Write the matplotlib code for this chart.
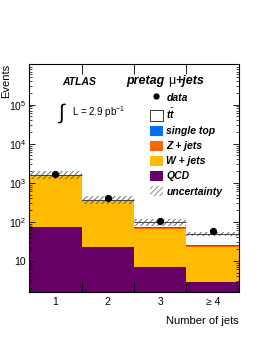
import numpy as np
import matplotlib.pyplot as plt
from matplotlib.patches import Patch
from matplotlib.lines import Line2D

plt.rcParams['font.family'] = ['Liberation Sans', 'DejaVu Sans']
plt.rcParams['mathtext.fontset'] = 'custom'
plt.rcParams['mathtext.rm'] = 'Liberation Sans'
plt.rcParams['mathtext.bfit'] = 'Liberation Sans:italic:bold'
plt.rcParams['hatch.linewidth'] = 0.6

# number of jets bins
bins = [1, 2, 3, 4]
bin_labels = ['1', '2', '3', u'\u2265 4']

# expected events per process
qcd = [72, 23, 7, 2.8]
wjets = [1450, 310, 60, 20]
zjets = [60, 15, 4, 1.2]
stop = [8, 6, 2.5, 1.2]
ttbar = [4, 18, 26, 23]
unc_frac = [0.22, 0.22, 0.22, 0.12]

data = [1720, 410, 106, 58]

x = np.array(bins)
fig = plt.figure(figsize=(2.62, 3.39), dpi=100)
ax = fig.add_axes([0.111, 0.139, 0.801, 0.672])

stack = [(qcd, '#660066'), (wjets, '#ffbb00'), (zjets, '#ff6600'),
         (stop, '#0070ff'), (ttbar, 'white')]
bottom = np.zeros(4)
for vals, col in stack:
    ax.bar(x, vals, width=1.0, bottom=bottom, color=col, linewidth=0)
    bottom = bottom + np.array(vals)

total = bottom
unc = total * np.array(unc_frac)
ax.bar(x, 2 * unc, width=1.0, bottom=total - unc, fill=False,
       hatch='//////', edgecolor='#555555', linewidth=0)
ax.hlines(total, x - 0.5, x + 0.5, color='#444444', linewidth=0.7)

ax.plot(x, data, 'o', color='black', markersize=4.2)

ax.set_yscale('log')
ax.set_xlim(0.5, 4.5)
ax.set_ylim(1.6, 1.1e6)

ax.set_xticks([1.5, 2.5, 3.5])
ax.set_xticklabels([])
ax.set_xticks(x, minor=True)
ax.set_xticklabels(bin_labels, minor=True, fontsize=7.5)
ax.tick_params(axis='x', which='major', direction='in', length=7, width=0.6, top=True)
ax.tick_params(axis='x', which='minor', length=0, pad=4)
ax.set_yticks([10, 100, 1000, 1e4, 1e5])
ax.set_yticklabels(['10', r'$10^2$', r'$10^3$', r'$10^4$', r'$10^5$'], fontsize=7.5)
ax.tick_params(axis='y', which='major', direction='in', length=4, width=0.6, right=True, pad=2)
ax.tick_params(axis='y', which='minor', direction='in', length=2, width=0.5, right=True)
ax.tick_params(axis='y', which='minor', labelleft=False)
for s in ax.spines.values():
    s.set_linewidth(0.8)

ax.set_ylabel('Events', fontsize=8, loc='top')
ax.yaxis.set_label_coords(-0.085, 1.0)
ax.set_xlabel('Number of jets', fontsize=8, loc='right', labelpad=6)

ax.text(0.158, 0.92, 'ATLAS', transform=ax.transAxes, fontsize=7.5,
        fontweight='bold', fontstyle='italic', va='center')
ax.text(0.135, 0.785, r'$\int$', transform=ax.transAxes, fontsize=15, va='center')
ax.text(0.205, 0.79, r'L = 2.9 pb$^{\mathregular{-1}}$', transform=ax.transAxes,
        fontsize=7, va='center')
t1 = ax.text(0.465, 0.925, 'pretag ', transform=ax.transAxes, fontsize=9,
             fontweight='bold', fontstyle='italic', va='center')
fig.canvas.draw()
bb = t1.get_window_extent().transformed(ax.transAxes.inverted())
t2 = ax.text(bb.x1, 0.925, u'\u03bc', transform=ax.transAxes, fontsize=9, va='center')
fig.canvas.draw()
bb = t2.get_window_extent().transformed(ax.transAxes.inverted())
ax.text(bb.x1, 0.925, '+jets', transform=ax.transAxes, fontsize=9,
        fontweight='bold', fontstyle='italic', va='center')

handles = [Line2D([], [], marker='o', color='black', linestyle='none', markersize=3.5),
           Patch(facecolor='white', edgecolor='#333333', linewidth=0.7),
           Patch(facecolor='#0070ff', linewidth=0),
           Patch(facecolor='#ff6600', linewidth=0),
           Patch(facecolor='#ffbb00', linewidth=0),
           Patch(facecolor='#660066', linewidth=0),
           Patch(facecolor='white', hatch='//////', edgecolor='#777777', linewidth=0)]
labels = ['data', r'$\mathbfit{t}\bar{\mathbfit{t}}$', 'single top', 'Z + jets',
          'W + jets', 'QCD', 'uncertainty']
leg = ax.legend(handles, labels, loc='upper left', bbox_to_anchor=(0.55, 0.9),
                frameon=False, fontsize=7.5, handlelength=1.25, handleheight=1.15,
                handletextpad=0.35, labelspacing=0.42, borderpad=0)
for t in leg.get_texts():
    t.set_fontweight('bold')
    t.set_fontstyle('italic')

fig.savefig('out.png', dpi=100)
